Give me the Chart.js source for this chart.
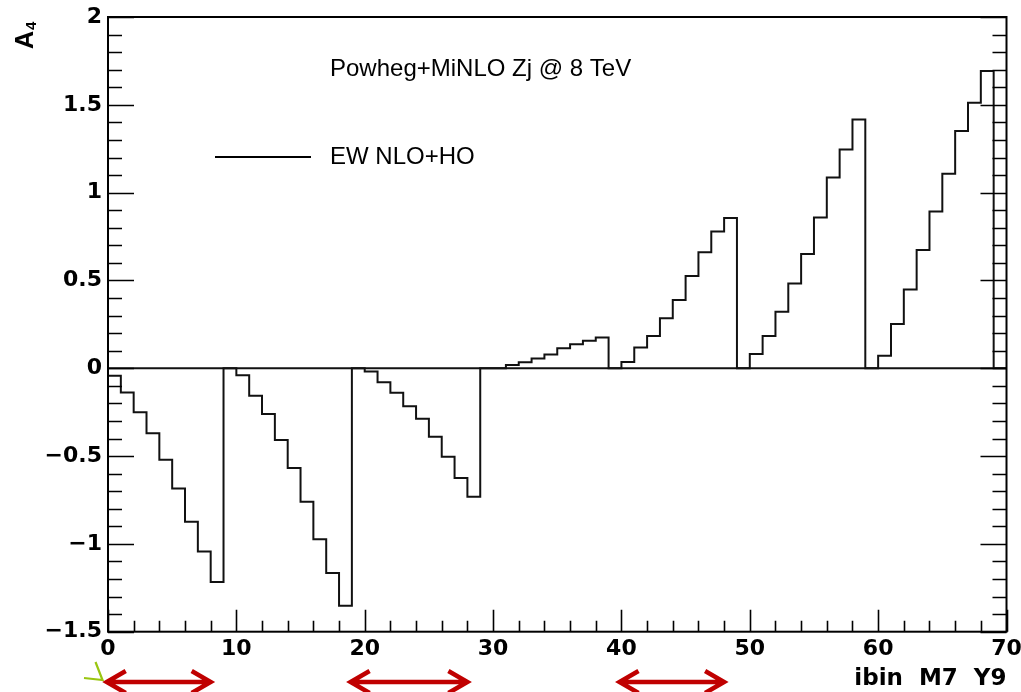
<!DOCTYPE html>
<html><head><meta charset="utf-8">
<script src="https://cdn.jsdelivr.net/npm/chart.js@4.4.1/dist/chart.umd.min.js"></script>
<style>html,body{margin:0;padding:0;background:#fff;}canvas{display:block;}</style>
</head><body>
<canvas id="c" width="1021" height="692"></canvas>
<script>
// ---- data ----
const binLowEdges = [0,1,2,3,4,5,6,7,8,9,10,11,12,13,14,15,16,17,18,19,20,21,22,23,24,25,26,27,28,29,
  30,31,32,33,34,35,36,37,38,39,40,41,42,43,44,45,46,47,48,49,50,51,52,53,54,55,56,57,58,59,
  60,61,62,63,64,65,66,67,68,69];
const lastEdge = 70;
const a4Values = [
  -0.043, -0.138, -0.251, -0.370, -0.521, -0.685, -0.874, -1.043, -1.217, 0,
  -0.040, -0.157, -0.260, -0.408, -0.568, -0.760, -0.974, -1.166, -1.352, 0,
  -0.019, -0.080, -0.139, -0.217, -0.287, -0.390, -0.504, -0.625, -0.732, 0,
   0.000,  0.019,  0.034,  0.055,  0.078,  0.114,  0.137,  0.157,  0.175, 0,
   0.036,  0.118,  0.183,  0.285,  0.388,  0.525,  0.660,  0.778,  0.856, 0,
   0.081,  0.183,  0.322,  0.482,  0.651,  0.858,  1.086,  1.246,  1.416, 0,
   0.071,  0.252,  0.448,  0.674,  0.893,  1.107,  1.351,  1.512,  1.693, 0
];
const xTickValues = [0,10,20,30,40,50,60,70];
const yTickValues = [-1.5,-1,-0.5,0,0.5,1,1.5,2];
const titleText = 'Powheg+MiNLO Zj @ 8 TeV';
const legendText = 'EW NLO+HO';
const xTitle = 'ibin  M7  Y9';
const arrowSpans = [[-0.1, 8.0], [18.9, 28.0], [39.85, 48.0]];

// ---- datasets built from the arrays ----
const histPoints = binLowEdges.map((b, i) => ({x: b, y: a4Values[i]}));
histPoints.push({x: lastEdge, y: a4Values[a4Values.length - 1]});
const zeroLine = [{x: binLowEdges[0], y: 0}, {x: lastEdge, y: 0}];

const tickFont = {family: '"DejaVu Sans"', weight: 'bold', size: 22};
const fmt = v => (v < 0 ? '\u2212' + Math.abs(v) : String(v));

const rootDeco = {
  id: 'rootDeco',
  afterDatasetsDraw(chart) {
    const {ctx, chartArea: a, scales: {x, y}} = chart;
    ctx.save();
    ctx.strokeStyle = '#000';
    ctx.lineWidth = 2;
    ctx.strokeRect(a.left, a.top, a.right - a.left, a.bottom - a.top);
    ctx.lineWidth = 1.6;
    ctx.beginPath();
    // y ticks every 0.1, major every 0.5 (left and right)
    for (let k = 0; k <= 35; k++) {
      const v = -1.5 + k * 0.1;
      const py = Math.round(y.getPixelForValue(v)) + 0.5;
      const L = (k % 5 === 0) ? 26 : 14;
      ctx.moveTo(a.left, py); ctx.lineTo(a.left + L, py);
      ctx.moveTo(a.right, py); ctx.lineTo(a.right - L, py);
    }
    // x ticks every 2, major every 10 (bottom)
    for (let k = 0; k <= 35; k++) {
      const v = k * 2;
      const px = Math.round(x.getPixelForValue(v)) + 0.5;
      const L = (v % 10 === 0) ? 22 : 11;
      ctx.moveTo(px, a.bottom); ctx.lineTo(px, a.bottom - L);
    }
    ctx.stroke();
    ctx.restore();
  },
  afterDraw(chart) {
    const {ctx, chartArea: a, scales: {x}} = chart;
    ctx.save();
    ctx.fillStyle = '#000';
    ctx.textBaseline = 'alphabetic';
    // title
    ctx.font = '24px "Liberation Sans"';
    ctx.textAlign = 'left';
    ctx.fillText(titleText, 330, 76);
    // legend
    ctx.strokeStyle = '#000';
    ctx.lineWidth = 2;
    ctx.beginPath(); ctx.moveTo(215, 157); ctx.lineTo(311, 157); ctx.stroke();
    ctx.fillText(legendText, 330, 164);
    // x title
    ctx.font = 'bold 23px "DejaVu Sans"';
    ctx.textAlign = 'right';
    ctx.fillText(xTitle, a.right, 685);
    // y title A_4 (rotated)
    ctx.save();
    ctx.translate(33, 49);
    ctx.rotate(-Math.PI / 2);
    ctx.textAlign = 'left';
    ctx.font = 'bold 25px "Liberation Sans"';
    ctx.fillText('A', 0, 0);
    const wA = ctx.measureText('A').width;
    ctx.font = 'bold 15px "Liberation Sans"';
    ctx.fillText('4', wA + 1, 3);
    ctx.restore();
    // red double arrows below axis
    ctx.strokeStyle = '#c00000';
    ctx.lineWidth = 4.5;
    ctx.lineJoin = 'miter';
    const yy = 682, hdx = 19, hdy = 11;
    arrowSpans.forEach(([v1, v2]) => {
      const x1 = x.getPixelForValue(v1), x2 = x.getPixelForValue(v2);
      ctx.beginPath();
      ctx.moveTo(x1 + 2, yy); ctx.lineTo(x2 - 2, yy);
      ctx.moveTo(x1 + hdx, yy - hdy); ctx.lineTo(x1, yy); ctx.lineTo(x1 + hdx, yy + hdy);
      ctx.moveTo(x2 - hdx, yy - hdy); ctx.lineTo(x2, yy); ctx.lineTo(x2 - hdx, yy + hdy);
      ctx.stroke();
    });
    // small green mark
    const x0 = x.getPixelForValue(0);
    ctx.strokeStyle = '#99c610';
    ctx.lineWidth = 2.2;
    ctx.beginPath();
    ctx.moveTo(x0 - 12.5, 662); ctx.lineTo(x0 - 5.5, 680); ctx.lineTo(x0 - 24, 678);
    ctx.stroke();
    ctx.restore();
  }
};

new Chart(document.getElementById('c'), {
  type: 'line',
  data: {
    datasets: [
      {data: histPoints, stepped: true, borderColor: '#111', borderWidth: 2, pointRadius: 0, fill: false, tension: 0},
      {data: zeroLine, borderColor: '#111', borderWidth: 2, pointRadius: 0, fill: false}
    ]
  },
  options: {
    responsive: false,
    animation: false,
    devicePixelRatio: 1,
    layout: {padding: {left: 0, right: 14.5, top: 17, bottom: 0}},
    plugins: {legend: {display: false}, tooltip: {enabled: false}},
    scales: {
      x: {
        type: 'linear', min: 0, max: 70,
        grid: {display: false, drawTicks: false},
        border: {display: false},
        afterBuildTicks(s) { s.ticks = xTickValues.map(v => ({value: v})); },
        ticks: {padding: 4, font: tickFont, color: '#000', maxRotation: 0, autoSkip: false, callback: fmt},
        afterFit(s) { s.height = 60.3; s.paddingLeft = 0; s.paddingRight = 0; }
      },
      y: {
        type: 'linear', min: -1.5, max: 2,
        grid: {display: false, drawTicks: false},
        border: {display: false},
        afterBuildTicks(s) { s.ticks = yTickValues.map(v => ({value: v})); },
        ticks: {padding: 6, font: tickFont, color: '#000', autoSkip: false, callback: fmt},
        afterFit(s) { s.width = 108; s.paddingTop = 0; s.paddingBottom = 0; }
      }
    }
  },
  plugins: [rootDeco]
});
</script>
</body></html>
